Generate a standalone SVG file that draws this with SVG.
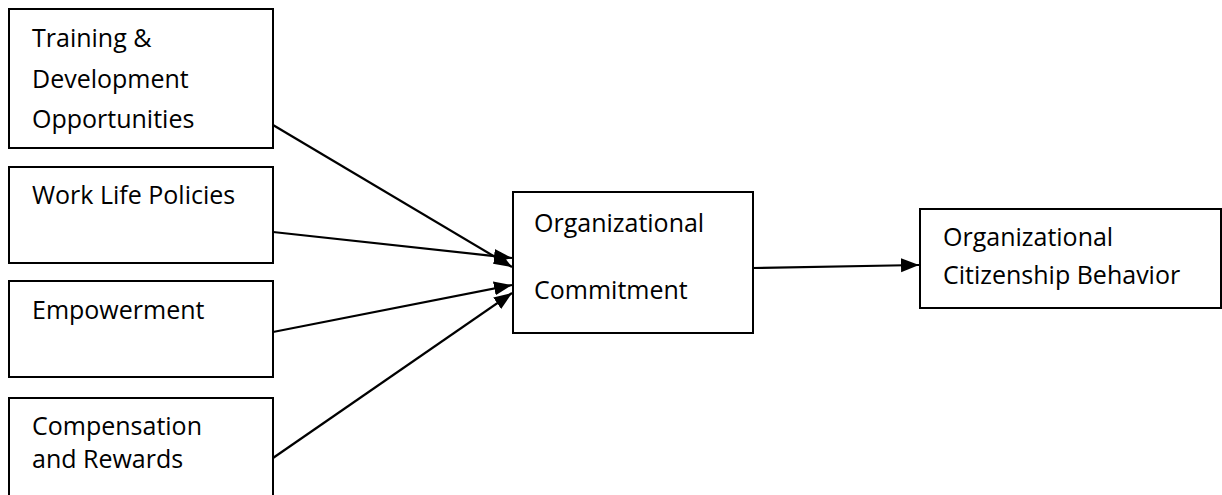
<svg xmlns="http://www.w3.org/2000/svg" width="1222" height="495" viewBox="0 0 1222 495">
<style>
.box{fill:#fff;stroke:#000;stroke-width:2}
.t{font-family:"Open Sans","Noto Sans","Liberation Sans",sans-serif;font-size:25px;fill:#000}
.c{stroke:#000;stroke-width:2.2;fill:none}
</style>
<defs>
<marker id="ah" markerUnits="userSpaceOnUse" markerWidth="20" markerHeight="16" refX="18" refY="7" orient="auto">
<path d="M0,0 L18,7 L0,14 Z" fill="#000"/>
</marker>
</defs>
<rect width="1222" height="495" fill="#fff"/>
<g id="connectors">
<line class="c" x1="273" y1="125" x2="512" y2="267" marker-end="url(#ah)"/>
<line class="c" x1="273" y1="232" x2="512" y2="258" marker-end="url(#ah)"/>
<line class="c" x1="273" y1="332" x2="512" y2="285" marker-end="url(#ah)"/>
<line class="c" x1="273" y1="458" x2="512" y2="293" marker-end="url(#ah)"/>
<line class="c" x1="753" y1="268" x2="919" y2="265" marker-end="url(#ah)"/>
</g>
<g id="training">
<rect class="box" x="9" y="9" width="264" height="139"/>
<text class="t" x="32" y="47">Training &amp;</text>
<text class="t" x="32" y="88">Development</text>
<text class="t" x="32" y="128">Opportunities</text>
</g>
<g id="worklife">
<rect class="box" x="9" y="167" width="264" height="96"/>
<text class="t" x="32" y="204">Work Life Policies</text>
</g>
<g id="empowerment">
<rect class="box" x="9" y="281" width="264" height="96"/>
<text class="t" x="32" y="319">Empowerment</text>
</g>
<g id="compensation">
<rect class="box" x="9" y="398" width="264" height="110"/>
<text class="t" x="32" y="435">Compensation</text>
<text class="t" x="32" y="468">and Rewards</text>
</g>
<g id="commitment">
<rect class="box" x="513" y="192" width="240" height="141"/>
<text class="t" x="534" y="232">Organizational</text>
<text class="t" x="534" y="299">Commitment</text>
</g>
<g id="ocb">
<rect class="box" x="920" y="209" width="301" height="99"/>
<text class="t" x="943" y="246">Organizational</text>
<text class="t" x="943" y="284">Citizenship Behavior</text>
</g>
</svg>
